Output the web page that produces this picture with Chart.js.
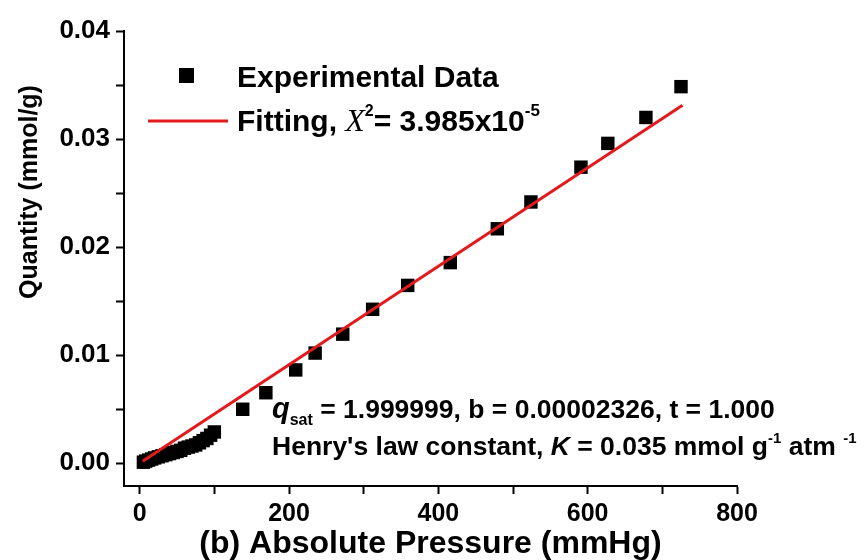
<!DOCTYPE html>
<html>
<head>
<meta charset="utf-8">
<script src="https://cdn.jsdelivr.net/npm/chart.js@4"></script>
<style>
  html, body { margin: 0; padding: 0; background: #fff; }
</style>
</head>
<body>
<canvas id="isotherm" width="864" height="560"></canvas>
<script>
// measured isotherm points (mmHg, mmol/g)
const pressure = [5, 8, 12, 16, 20, 25, 30, 35, 40, 45, 50, 55, 60, 65, 70, 75, 80, 85, 90, 95, 100,
  138, 169, 209, 235, 272, 312, 359, 416, 479, 524, 591, 627, 678, 725];
const quantity = [0.0001, 0.0002, 0.0003, 0.0004, 0.0005, 0.0006, 0.0007, 0.0008, 0.0009, 0.0010, 0.0011,
  0.0012, 0.0014, 0.0015, 0.0016, 0.0017, 0.0019, 0.0021, 0.0023, 0.0026, 0.0029,
  0.0050, 0.00653, 0.00864, 0.0102, 0.01195, 0.01425, 0.01646, 0.01857, 0.0217, 0.02418,
  0.0274, 0.0296, 0.0320, 0.03485];

// fitted line, read at its two ends
const fitPressure = [4, 727];
const fitQuantity = [0.00018, 0.03313];

const xTicks = [0, 100, 200, 300, 400, 500, 600, 700, 800];
const yTicks = [0, 0.005, 0.01, 0.015, 0.02, 0.025, 0.03, 0.035, 0.04];

const bold = (size) => 'bold ' + size + 'px "Liberation Sans", Arial, sans-serif';

// draw a row of text pieces one after another (for sub/superscripts)
function drawRuns(ctx, x, y, runs) {
  runs.forEach(r => {
    ctx.font = r.font;
    ctx.fillText(r.text, x, y + (r.dy || 0));
    x += ctx.measureText(r.text).width + (r.gap || 0);
  });
}

const extras = {
  id: 'extras',
  afterDraw(chart) {
    const ctx = chart.ctx;
    ctx.save();
    ctx.fillStyle = '#000';
    ctx.textAlign = 'left';
    ctx.textBaseline = 'alphabetic';

    // legend
    ctx.fillRect(179, 68, 15, 15);
    drawRuns(ctx, 237, 87, [{ text: 'Experimental Data', font: bold(30) }]);
    ctx.strokeStyle = '#e31a1c';
    ctx.lineWidth = 3;
    ctx.beginPath();
    ctx.moveTo(148, 121);
    ctx.lineTo(228, 121);
    ctx.stroke();
    drawRuns(ctx, 237, 131, [
      { text: 'Fitting, ', font: bold(30) },
      { text: 'X', font: 'italic 32px "Liberation Serif", serif' },
      { text: '2', font: bold(16), dy: -15 },
      { text: '= 3.985x10', font: bold(30) },
      { text: '-5', font: bold(17), dy: -15 }
    ]);

    // fit parameters
    drawRuns(ctx, 272, 418, [
      { text: 'q', font: 'bold italic 29px "Liberation Sans", Arial, sans-serif' },
      { text: 'sat', font: bold(16), dy: 7 },
      { text: ' = 1.999999, b = 0.00002326, t = 1.000', font: bold(26.5) }
    ]);
    drawRuns(ctx, 272, 455, [
      { text: "Henry's law constant, ", font: bold(26.5) },
      { text: 'K', font: 'bold italic 26.5px "Liberation Sans", Arial, sans-serif' },
      { text: ' = 0.035 mmol g', font: bold(26.5) },
      { text: '-1', font: bold(15), dy: -12 },
      { text: ' atm ', font: bold(26.5) },
      { text: '-1', font: bold(15), dy: -12 }
    ]);

    // y axis title, sits higher than the axis centre in the original
    ctx.translate(30, 192);
    ctx.rotate(-Math.PI / 2);
    ctx.textAlign = 'center';
    ctx.textBaseline = 'middle';
    ctx.font = bold(25);
    ctx.fillText('Quantity (mmol/g)', 0, 0);
    ctx.restore();
  }
};

const ctx = document.getElementById('isotherm');

new Chart(ctx, {
  type: 'scatter',
  data: {
    datasets: [
      {
        label: 'Experimental Data',
        data: pressure.map((p, i) => ({ x: p, y: quantity[i] })),
        pointStyle: 'rect',
        pointRadius: 9.5,
        pointHoverRadius: 9.5,
        backgroundColor: '#000',
        borderColor: '#000',
        borderWidth: 0,
        order: 1
      },
      {
        label: 'Fitting',
        type: 'line',
        data: fitPressure.map((p, i) => ({ x: p, y: fitQuantity[i] })),
        borderColor: '#e31a1c',
        borderWidth: 3,
        pointRadius: 0,
        fill: false,
        order: 0
      }
    ]
  },
  options: {
    responsive: false,
    animation: false,
    layout: { padding: { top: 31, right: 127, left: 0, bottom: 0 } },
    plugins: {
      legend: { display: false },
      tooltip: { enabled: false }
    },
    scales: {
      x: {
        type: 'linear',
        min: -21,
        max: 800,
        afterBuildTicks: (s) => { s.ticks = xTicks.map(v => ({ value: v })); },
        afterFit: (s) => { s.height = 74; },
        grid: { drawOnChartArea: false, drawTicks: true, tickLength: 8, tickWidth: 2, tickColor: '#000' },
        border: { display: true, color: '#000', width: 2 },
        ticks: {
          color: '#000',
          font: { family: '"Liberation Sans", Arial', size: 25, weight: 'bold' },
          padding: 5,
          maxRotation: 0,
          callback: (v) => (v % 200 === 0 ? v : '')
        },
        title: {
          display: true,
          text: '(b) Absolute Pressure (mmHg)',
          color: '#000',
          font: { family: '"Liberation Sans", Arial', size: 32, weight: 'bold', lineHeight: 1.0 },
          padding: { top: 0, bottom: 0 }
        }
      },
      y: {
        min: -0.0021,
        max: 0.04,
        afterBuildTicks: (s) => { s.ticks = yTicks.map(v => ({ value: v })); },
        afterFit: (s) => { s.width = 124; },
        grid: { drawOnChartArea: false, drawTicks: true, tickLength: 8, tickWidth: 2, tickColor: '#000' },
        border: { display: true, color: '#000', width: 2 },
        ticks: {
          color: '#000',
          font: { family: '"Liberation Sans", Arial', size: 26, weight: 'bold' },
          padding: 6,
          callback: (v) => (Math.round(v * 1000) % 10 === 0 ? v.toFixed(2) : '')
        }
      }
    }
  },
  plugins: [extras]
});
</script>
</body>
</html>
